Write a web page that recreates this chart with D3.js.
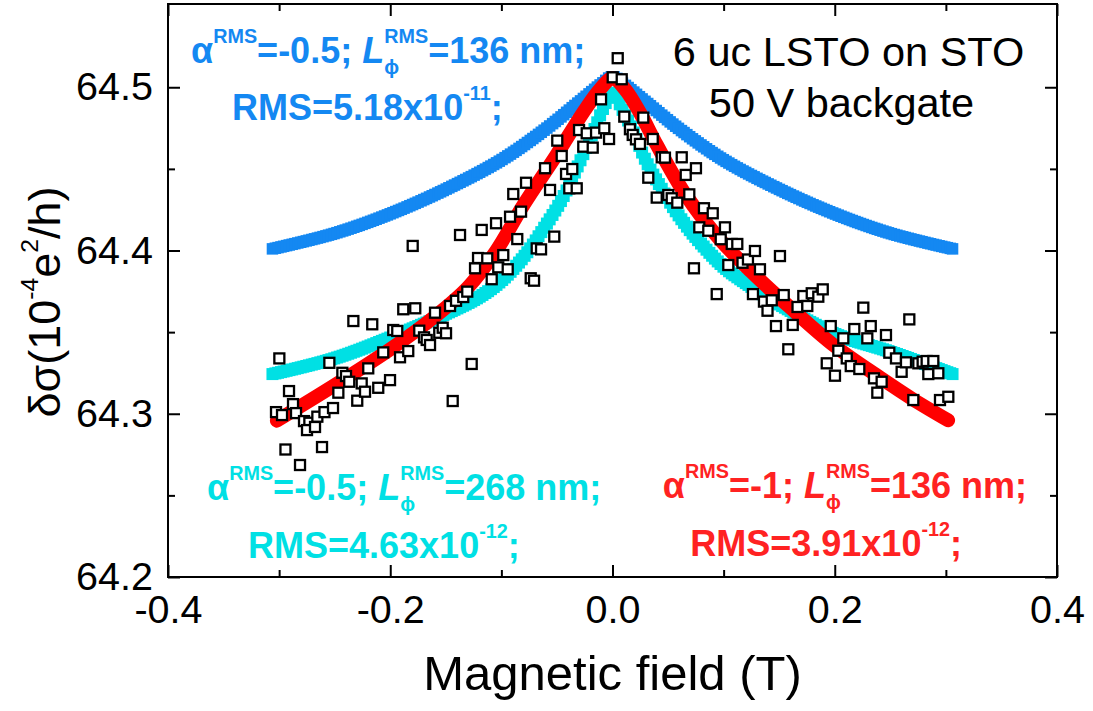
<!DOCTYPE html>
<html><head><meta charset="utf-8">
<script src="https://cdn.jsdelivr.net/npm/d3@7"></script>
<style>body{margin:0;background:#fff} text{font-family:"Liberation Sans",Arial,sans-serif;white-space:pre}</style>
</head><body>
<svg id="c" width="1093" height="711"></svg>
<script>
// ---------- data ----------
const xTicks = [-0.4, -0.2, 0, 0.2, 0.4];
const xTickLabels = ["-0.4", "-0.2", "0.0", "0.2", "0.4"];
const xMinorTicks = [-0.3, -0.1, 0.1, 0.3];
const yTicks = [64.2, 64.3, 64.4, 64.5];
const yTickLabels = ["64.2", "64.3", "64.4", "64.5"];
const yMinorTicks = [64.25, 64.35, 64.45];

// measured data (open squares)
const fieldT = [-0.3028,-0.2998,-0.2974,-0.2943,-0.2911,-0.2875,-0.2848,-0.2812,-0.2776,-0.2728,-0.2749,-0.2677,-0.2656,-0.2614,-0.2592,-0.2515,-0.2548,-0.2467,-0.2431,-0.2398,-0.2369,-0.2332,-0.2297,-0.2257,-0.2227,-0.2198,-0.2162,-0.2108,-0.2063,-0.2002,-0.1973,-0.1937,-0.1912,-0.1883,-0.1838,-0.1798,-0.1775,-0.1739,-0.1696,-0.1672,-0.1642,-0.1597,-0.1559,-0.1528,-0.1498,-0.1462,-0.1438,-0.1408,-0.1372,-0.1343,-0.1307,-0.1267,-0.1237,-0.1210,-0.1177,-0.1127,-0.1087,-0.1048,-0.1028,-0.0983,-0.0943,-0.0922,-0.0893,-0.0857,-0.0823,-0.0778,-0.0736,-0.0706,-0.0682,-0.0643,-0.0607,-0.0562,-0.0524,-0.0497,-0.0457,-0.0418,-0.0389,-0.0362,-0.0322,-0.0301,-0.0263,-0.0232,-0.0178,-0.0148,-0.0103,-0.0074,-0.0031,0.0002,0.0047,0.0083,0.0106,0.0157,0.0182,0.0211,0.0247,0.0277,0.0322,0.0362,0.0398,0.0443,0.0472,0.0502,0.0533,0.0583,0.0623,0.0659,0.0691,0.0733,0.0751,0.0781,0.0823,0.0862,0.0902,0.0938,0.0974,0.1012,0.1042,0.1073,0.1123,0.1170,0.1219,0.1264,0.1282,0.1327,0.1363,0.1433,0.1395,0.1471,0.1507,0.1541,0.1582,0.1622,0.1665,0.1717,0.1753,0.1793,0.1852,0.1892,0.1928,0.1964,0.2002,0.2032,0.2077,0.2108,0.2144,0.2176,0.2221,0.2257,0.2293,0.2324,0.2353,0.2383,0.2422,0.2461,0.2491,0.2551,0.2602,0.2641,0.2671,0.2707,0.2752,0.2791,0.2827,0.2842,0.2887,0.2932,0.2947,0.3022];
const sigma = [64.3010,64.3339,64.2992,64.2781,64.3139,64.3059,64.3004,64.2686,64.2955,64.2945,64.2900,64.2919,64.2982,64.2796,64.3010,64.3035,64.3312,64.3129,64.3251,64.3231,64.3196,64.3568,64.3080,64.3186,64.3135,64.3278,64.3548,64.3159,64.3376,64.3206,64.3513,64.3507,64.3346,64.3640,64.3384,64.4028,64.3646,64.3509,64.3468,64.3452,64.3421,64.3619,64.3496,64.3527,64.3493,64.3660,64.3078,64.3692,64.4095,64.3715,64.3748,64.3305,64.3891,64.3954,64.4126,64.3952,64.3824,64.4167,64.3897,64.3972,64.3885,64.4207,64.4346,64.4070,64.4238,64.4415,64.3830,64.3815,64.4013,64.4007,64.4504,64.4371,64.4085,64.4673,64.4579,64.4469,64.4381,64.4499,64.4381,64.4738,64.4636,64.4718,64.4630,64.4722,64.4926,64.4749,64.4683,64.5061,64.5178,64.5049,64.4820,64.4743,64.4708,64.4681,64.4653,64.4814,64.4446,64.4683,64.4324,64.4571,64.4569,64.4340,64.4320,64.4293,64.4571,64.4463,64.4344,64.3891,64.4504,64.4142,64.4259,64.4121,64.4228,64.3733,64.4069,64.4142,64.3911,64.4040,64.4040,64.3925,64.3945,64.3733,64.3997,64.3885,64.3687,64.3695,64.3631,64.3537,64.3966,64.3727,64.3395,64.3544,64.3654,64.3721,64.3660,64.3738,64.3717,64.3762,64.3309,64.3537,64.3233,64.3386,64.3462,64.3339,64.3292,64.3519,64.3274,64.3650,64.3462,64.3537,64.3217,64.3129,64.3196,64.3482,64.3374,64.3339,64.3257,64.3315,64.3578,64.3084,64.3309,64.3319,64.3323,64.3243,64.3323,64.3248,64.3084,64.3104];

// fit curves
const blueB = [-0.306,-0.25,-0.2,-0.15,-0.1,-0.06,-0.03,-0.01,0,0.01,0.03,0.06,0.1,0.15,0.2,0.25,0.306];
const blueS = [64.401,64.4105,64.4225,64.4375,64.4555,64.4745,64.491,64.502,64.5065,64.502,64.491,64.4745,64.4555,64.4375,64.4225,64.4105,64.401];
const cyanB = [-0.306,-0.25,-0.2,-0.15,-0.12,-0.1,-0.08,-0.06,-0.045,-0.03,-0.018,-0.008,0,0.008,0.018,0.03,0.045,0.06,0.08,0.1,0.12,0.15,0.2,0.25,0.306];
const cyanS = [64.3243,64.334,64.3467,64.3612,64.3715,64.3815,64.396,64.4155,64.432,64.4535,64.4715,64.4875,64.497,64.4875,64.474,64.455,64.437,64.421,64.404,64.390,64.380,64.367,64.349,64.338,64.3243];
const redB = [-0.302,-0.25,-0.2,-0.16,-0.13,-0.105,-0.08,-0.05,-0.025,-0.011,0,0.011,0.025,0.04,0.065,0.095,0.125,0.16,0.2,0.24,0.27,0.302];
const redS = [64.2958,64.3175,64.3395,64.3595,64.3775,64.3995,64.428,64.459,64.486,64.499,64.5055,64.499,64.484,64.4645,64.435,64.408,64.387,64.365,64.3415,64.3225,64.309,64.296];

// ---------- layout ----------
const W = 1093, H = 711;
const L = 168, R = 1057, T = 4, B = 577;
const BLUE = "#1488f2", CYAN = "#00e0e4", RED = "#ff0000", REDTXT = "#ff2222";
const svg = d3.select("#c");
svg.append("rect").attr("width", W).attr("height", H).attr("fill", "#fff");

const x = d3.scaleLinear().domain([-0.4, 0.4]).range([L, R]);
const y = d3.scaleLinear().domain([64.2, 64.551]).range([B, T]);

// curves
const lineD = (bs, ss) => d3.line().x(i => x(bs[i])).y(i => y(ss[i])).curve(d3.curveCatmullRom.alpha(0.5))(d3.range(bs.length));

// a fit curve drawn as a dense run of square symbols (as in the original)
function squareRun(bs, ss, color, s, dx) {
  const p = svg.append("path").attr("d", lineD(bs, ss)).attr("fill", "none").attr("stroke", "none");
  const node = p.node(), len = node.getTotalLength();
  const samples = d3.range(0, len + 0.25, 0.25).map(l => node.getPointAtLength(l));
  const pts = [];
  let target = samples[0].x;
  samples.forEach(pt => { if (pt.x >= target) { pts.push(pt); target += dx; } });
  pts.push(samples[samples.length - 1]);
  p.remove();
  svg.append("g").selectAll("rect").data(pts).join("rect")
    .attr("x", d => d.x - s / 2).attr("y", d => d.y - s / 2)
    .attr("width", s).attr("height", s).attr("fill", color);
}
squareRun(blueB, blueS, BLUE, 11.5, 2.8);
squareRun(cyanB, cyanS, CYAN, 12, 2.8);
svg.append("path").attr("d", lineD(redB, redS)).attr("fill", "none").attr("stroke", RED)
  .attr("stroke-width", 14).attr("stroke-linecap", "round").attr("stroke-linejoin", "round");

// squares (data)
const n = Math.min(fieldT.length, sigma.length);
svg.append("g").selectAll("rect").data(d3.range(n)).join("rect")
  .attr("x", i => x(fieldT[i]) - 5).attr("y", i => y(sigma[i]) - 5)
  .attr("width", 10).attr("height", 10)
  .attr("fill", "#fff").attr("stroke", "#000").attr("stroke-width", 2.3);

// axes (ticks inward)
const fs = 39.5;
const ax = (g) => g.call(s => s.select(".domain").remove()).call(s => s.selectAll("line").attr("stroke", "#000").attr("stroke-width", 2));
svg.append("g").attr("transform", `translate(0,${B})`)
  .call(d3.axisBottom(x).tickValues(xTicks).tickSize(-12).tickPadding(18).tickFormat((d, i) => xTickLabels[i]))
  .call(ax).selectAll("text").attr("font-size", fs).attr("font-family", "Liberation Sans, Arial").attr("fill", "#000");
svg.append("g").attr("transform", `translate(0,${B})`).call(d3.axisBottom(x).tickValues(xMinorTicks).tickSize(-7).tickFormat("")).call(ax);
svg.append("g").attr("transform", `translate(0,${T})`).call(d3.axisTop(x).tickValues(xTicks).tickSize(-12).tickFormat("")).call(ax);
svg.append("g").attr("transform", `translate(0,${T})`).call(d3.axisTop(x).tickValues(xMinorTicks).tickSize(-7).tickFormat("")).call(ax);
svg.append("g").attr("transform", `translate(${L},0)`)
  .call(d3.axisLeft(y).tickValues(yTicks).tickSize(-12).tickPadding(15).tickFormat((d, i) => yTickLabels[i]))
  .call(ax).selectAll("text").attr("font-size", fs).attr("font-family", "Liberation Sans, Arial").attr("fill", "#000");
svg.append("g").attr("transform", `translate(${L},0)`).call(d3.axisLeft(y).tickValues(yMinorTicks).tickSize(-7).tickFormat("")).call(ax);
svg.append("g").attr("transform", `translate(${R},0)`).call(d3.axisRight(y).tickValues(yTicks).tickSize(-12).tickFormat("")).call(ax);
svg.append("g").attr("transform", `translate(${R},0)`).call(d3.axisRight(y).tickValues(yMinorTicks).tickSize(-7).tickFormat("")).call(ax);
svg.append("rect").attr("x", L).attr("y", T).attr("width", R - L).attr("height", B - T)
  .attr("fill", "none").attr("stroke", "#000").attr("stroke-width", 2);

// rich text helper (sequential segments, sub/sup stacking)
function rich(parent, px, py, segs, anchor, color, base, weight) {
  const g = parent.append("g");
  let cx = 0, stay = null;
  segs.forEach(s => {
    const startX = stay ? stay.x : cx;
    const el = g.append("text").attr("x", startX).attr("y", (s.dy || 0) * base)
      .attr("font-size", base * (s.sc || 1)).attr("fill", color)
      .attr("font-weight", weight).attr("font-style", s.it ? "italic" : null)
      .text(s.t);
    const w = el.node().getComputedTextLength();
    if (s.stay) { stay = { x: cx, w: w }; }
    else if (stay) { cx = stay.x + Math.max(stay.w, w); stay = null; }
    else cx += w;
  });
  const off = anchor === "end" ? -cx : anchor === "middle" ? -cx / 2 : 0;
  g.attr("transform", `translate(${px + off},${py})`);
  return g;
}
const SUP = -0.55, SUB = 0.3, SC = 0.55;
const line1 = (a, l) => [
  { t: "α" }, { t: "RMS", sc: SC, dy: SUP }, { t: "=" + a + "; " },
  { t: "L", it: true }, { t: "ϕ", sc: SC, dy: SUB, stay: true }, { t: "RMS", sc: SC, dy: SUP },
  { t: "=" + l + " nm;" }];
const line2 = (m, e) => [{ t: "RMS=" + m + "x10" }, { t: e, sc: SC, dy: SUP }, { t: ";" }];

const af = 36;
rich(svg, 191, 63, line1("-0.5", "136"), "start", BLUE, af, "bold");
rich(svg, 232, 120, line2("5.18", "-11"), "start", BLUE, af, "bold");
rich(svg, 207, 500, line1("-0.5", "268"), "start", CYAN, af, "bold");
rich(svg, 248, 558, line2("4.63", "-12"), "start", CYAN, af, "bold");
rich(svg, 1027, 498, line1("-1", "136"), "end", REDTXT, af, "bold");
rich(svg, 962, 556, line2("3.91", "-12"), "end", REDTXT, af, "bold");

// sample labels
svg.append("text").attr("x", 848.5).attr("y", 66).attr("text-anchor", "middle").attr("font-size", 41.5).attr("fill", "#000").text("6 uc LSTO on STO");
svg.append("text").attr("x", 841.5).attr("y", 117).attr("text-anchor", "middle").attr("font-size", 41.5).attr("fill", "#000").text("50 V backgate");

// axis titles
svg.append("text").attr("x", 612.5).attr("y", 690).attr("text-anchor", "middle").attr("font-size", 49).attr("fill", "#000").text("Magnetic field (T)");
const yt = svg.append("g").attr("transform", "translate(60,302) rotate(-90)");
rich(yt, 0, 0, [{ t: "δσ(10" }, { t: "-4", sc: SC, dy: -0.5 }, { t: "e" }, { t: "2", sc: SC, dy: -0.5 }, { t: "/h)" }], "middle", "#000", 45, "normal");
</script>
</body></html>
